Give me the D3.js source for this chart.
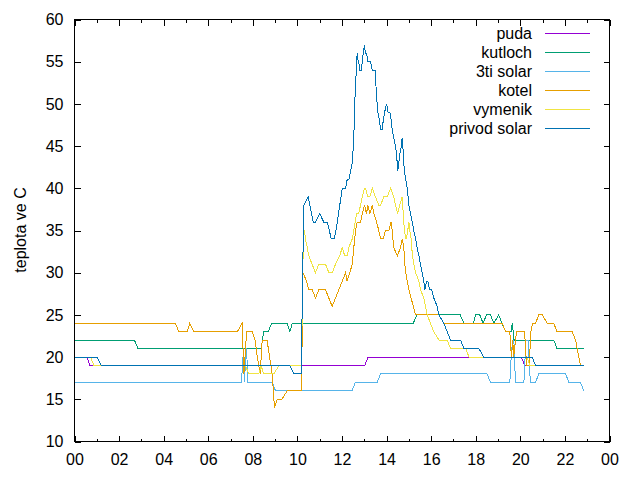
<!DOCTYPE html>
<html lang="en">
<head>
  <meta charset="UTF-8" />
  <title>teplota</title>
  <script src="https://d3js.org/d3.v7.min.js"></script>
  <style>
    body { margin: 0; background: #fff; }
    svg { font-family: 'Liberation Sans', Arial, sans-serif; }
    .axis path { display: none; }
    .axis line { stroke: #000; shape-rendering: crispEdges; }
    .axis text { font-size: 16px; fill: #000; }
    .series { fill: none; stroke-width: 1; shape-rendering: crispEdges; }
  </style>
</head>
<body>
  <svg id="chart" width="640" height="480"></svg>
  <script>
    // series names, in plot order
    const names = ["puda", "kutloch", "3ti solar", "kotel", "vymenik", "privod solar"];
    const colors = ["#9400d3", "#009e73", "#56b4e9", "#e69f00", "#f0e442", "#0072b2"];

    // [hour of day, temperature]
    const puda = [[0,20],[0.57,20],[0.69,19],[13.02,19],[13.17,20],[20.04,20],[20.2,19],[22.85,19]];

    const kutloch = [[0,22],[2.69,22],[2.85,21],[8.37,21],[8.49,23],[8.69,23],[8.84,24],[9.54,24],[9.66,23],
      [9.77,24],[15.19,24],[15.37,25],[17.3,25],[17.47,24],[17.89,24],[17.99,25],[18.18,25],[18.33,24],
      [18.48,25],[18.66,25],[18.81,24],[19.03,25],[19.18,24],[19.35,23],[19.58,23],[19.64,24],[19.72,22],
      [21.5,22],[21.65,21],[22.85,21]];

    const solar3 = [[0,17],[7.5,17],[7.54,20],[7.6,20],[7.64,17],[7.67,21],[7.72,21],[7.78,17],[8.87,17],
      [9.02,16],[12.45,16],[12.6,17],[13.58,17],[13.73,18],[18.51,18],[18.66,17],[19.53,17],[19.59,20],
      [19.65,22],[19.71,22],[19.78,17],[20.16,17],[20.25,22],[20.35,22],[20.45,17],[20.68,17],[20.83,18],
      [22.03,18],[22.18,17],[22.7,17],[22.85,16]];

    const kotel = [[0,24],[4.53,24],[4.68,23],[5.05,23],[5.17,24],[5.35,23],[7.3,23],[7.52,24],[7.6,18],
      [7.72,23],[7.98,23],[8.1,22],[8.2,20],[8.33,18],[8.42,22],[8.64,22],[8.75,20],[8.87,18],[8.97,14],
      [9.09,15],[9.3,15],[9.54,16],[10.18,16],[10.25,30],[10.41,29],[10.51,28],[10.66,28],[10.81,27],
      [10.96,28],[11.26,28],[11.41,27],[11.56,26],[11.71,27],[11.86,28],[12.01,29],[12.16,30],[12.23,29],
      [12.35,30],[12.46,31],[12.53,33],[12.61,35],[12.68,36],[12.83,36],[12.91,37],[13.01,38],[13.1,37],
      [13.16,38],[13.25,37],[13.36,38],[13.43,37],[13.55,36],[13.65,35],[13.73,34],[13.85,34],[13.95,35],
      [14.1,35],[14.2,36],[14.25,35],[14.32,33],[14.48,32],[14.63,33],[14.7,34],[14.77,33],[14.82,31],
      [14.86,30],[14.93,29],[15.0,28],[15.1,27],[15.2,26],[15.3,25],[16.35,25],[16.57,24],[19.19,24],
      [19.34,23],[19.53,23],[19.6,20],[19.66,22],[19.7,20],[19.83,23],[20.19,23],[20.28,19],[20.4,19],
      [20.47,23],[20.55,24],[20.68,24],[20.83,25],[20.98,25],[21.21,24],[21.5,24],[21.65,23],[22.33,23],
      [22.48,22],[22.62,20],[22.7,19]];

    const vymenik = [[0,20],[0.72,20],[0.87,19],[7.67,19],[7.82,18],[8.27,18],[8.37,19],[8.49,18],[8.94,18],
      [9.17,19],[10.18,19],[10.27,35],[10.32,35],[10.36,34],[10.44,33],[10.51,32],[10.66,31],[10.81,30],
      [10.96,31],[11.26,31],[11.41,30],[11.56,30],[11.71,31],[11.9,32],[12.01,33],[12.12,32],[12.23,32],
      [12.31,33],[12.46,34],[12.53,35],[12.65,37],[12.75,37],[12.83,38],[12.91,39],[13.01,40],[13.05,40],
      [13.16,39],[13.25,39],[13.36,40],[13.5,39],[13.65,38],[13.73,38],[13.88,39],[14.03,39],[14.18,40],
      [14.32,39],[14.4,38],[14.5,37],[14.59,38],[14.7,39],[14.77,36],[14.85,34],[14.89,34],[14.95,35],
      [15.0,36],[15.04,35],[15.1,34],[15.16,32],[15.22,31],[15.3,30],[15.45,29],[15.52,28],[15.67,27],
      [15.82,25],[15.97,24],[16.12,23],[16.35,22],[16.72,22],[16.87,21],[17.55,21],[17.7,20],[20.3,20],
      [20.43,19],[22.85,19]];

    const privod = [[0,20],[1.02,20],[1.2,19],[9.66,19],[9.84,18],[10.18,18],[10.22,28],[10.29,38],[10.48,39],
      [10.71,36],[10.81,36],[11.0,37],[11.18,36],[11.34,36],[11.52,34],[11.66,34],[11.79,36],[11.9,38],
      [12.01,40],[12.16,40],[12.23,41],[12.31,41],[12.38,42],[12.46,43],[12.53,46],[12.57,50],[12.64,54],
      [12.68,56],[12.73,55],[12.75,55],[12.8,54],[12.86,54],[12.91,55],[12.95,56],[13.01,57],[13.05,56],
      [13.1,56],[13.16,55],[13.28,55],[13.36,54],[13.5,54],[13.54,51],[13.58,50],[13.61,49],[13.68,48],
      [13.73,47],[13.8,47],[13.85,48],[13.91,49],[14.0,50],[14.07,49],[14.15,49],[14.21,48],[14.25,47],
      [14.32,46],[14.4,45],[14.45,44],[14.5,42],[14.55,43],[14.59,44],[14.66,45],[14.7,46],[14.73,45],
      [14.77,43],[14.8,42],[14.86,41],[14.93,40],[15.0,38],[15.07,37],[15.15,36],[15.22,35],[15.3,34],
      [15.37,33],[15.45,32],[15.52,31],[15.6,30],[15.67,29],[15.72,28],[15.79,29],[15.85,29],[15.93,28],
      [16.02,28],[16.12,27],[16.27,26],[16.34,25],[16.57,24],[16.72,23],[16.87,22],[17.32,22],[17.47,21],
      [18.14,21],[18.36,20],[20.53,20],[20.68,19],[22.85,19]];

    const seriesData = [puda, kutloch, solar3, kotel, vymenik, privod];

    const xTicks = d3.range(0, 25, 2);
    const xMinorTicks = d3.range(1, 24, 2);
    const yTicks = d3.range(10, 61, 5);

    const svg = d3.select("#chart");
    const plotLeft = 74, plotRight = 609, plotTop = 19, plotBottom = 441;

    const x = d3.scaleLinear().domain([0, 24]).range([plotLeft + 0.5, plotRight + 0.5]);
    const y = d3.scaleLinear().domain([10, 60]).range([plotBottom + 0.5, plotTop + 0.5]);

    const hourFmt = h => d3.format("02d")(h % 24);

    // bottom / top axes (ticks inward, mirrored on top)
    svg.append("g").attr("class", "axis")
      .attr("transform", `translate(0,${plotBottom + 0.5})`)
      .call(d3.axisBottom(x).tickValues(xTicks).tickSize(-6).tickPadding(12).tickFormat(hourFmt));
    svg.append("g").attr("class", "axis")
      .attr("transform", `translate(0,${plotBottom + 0.5})`)
      .call(d3.axisBottom(x).tickValues(xMinorTicks).tickSize(-3).tickFormat(""));
    svg.append("g").attr("class", "axis")
      .attr("transform", `translate(0,${plotTop + 0.5})`)
      .call(d3.axisTop(x).tickValues(xTicks).tickSize(-6).tickFormat(""));
    svg.append("g").attr("class", "axis")
      .attr("transform", `translate(0,${plotTop + 0.5})`)
      .call(d3.axisTop(x).tickValues(xMinorTicks).tickSize(-3).tickFormat(""));

    // left / right axes
    svg.append("g").attr("class", "axis")
      .attr("transform", `translate(${plotLeft + 0.5},0)`)
      .call(d3.axisLeft(y).tickValues(yTicks).tickSize(-6).tickPadding(11));
    svg.append("g").attr("class", "axis")
      .attr("transform", `translate(${plotRight + 0.5},0)`)
      .call(d3.axisRight(y).tickValues(yTicks).tickSize(-6).tickFormat(""));

    // y label
    svg.append("text")
      .attr("transform", `translate(20,${(plotTop + plotBottom) / 2}) rotate(-90)`)
      .attr("text-anchor", "middle")
      .attr("dy", "0.35em")
      .style("font-size", "16px")
      .text("teplota ve C");

    // lines
    const line = d3.line().x(d => x(d[0])).y(d => y(d[1]));
    seriesData.forEach((data, i) => {
      svg.append("path")
        .datum(data)
        .attr("class", "series")
        .attr("stroke", colors[i])
        .attr("d", line);
    });

    // legend
    const legend = svg.append("g");
    names.forEach((name, i) => {
      const ly = 33.5 + i * 19;
      legend.append("text")
        .attr("x", 532).attr("y", ly)
        .attr("dy", "0.35em")
        .attr("text-anchor", "end")
        .style("font-size", "16px")
        .text(name);
      legend.append("line")
        .attr("x1", 545).attr("x2", 590)
        .attr("y1", ly).attr("y2", ly)
        .attr("stroke", colors[i])
        .style("shape-rendering", "crispEdges");
    });

    // border
    svg.append("rect")
      .attr("x", plotLeft + 0.5).attr("y", plotTop + 0.5)
      .attr("width", plotRight - plotLeft).attr("height", plotBottom - plotTop)
      .attr("fill", "none").attr("stroke", "#000")
      .style("shape-rendering", "crispEdges");
  </script>
</body>
</html>
